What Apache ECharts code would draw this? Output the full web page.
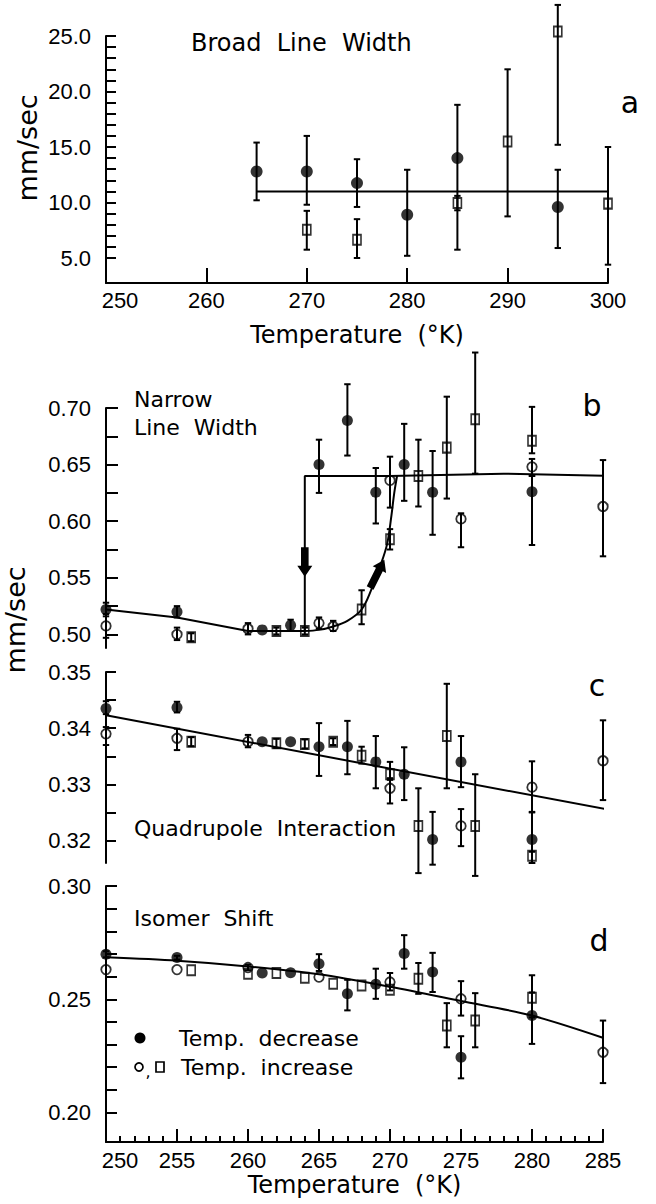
<!DOCTYPE html>
<html><head><meta charset="utf-8">
<script src="https://cdn.jsdelivr.net/npm/echarts@6/dist/echarts.min.js"></script>
<style>html,body{margin:0;padding:0;background:#fff}#c{width:656px;height:1204px}</style>
</head><body><div id="c"></div>
<script>
// ---------------- DATA ----------------
// each point: [temperature K, value, errLow, errHigh] (null = no visible error bar)
// Panel a: Broad Line Width (mm/sec)
const aDec = [[265,12.8,10.2,15.4],[270,12.8,9.8,16.0],[275,11.75,9.6,13.9],[280,8.9,5.2,12.95],[285,14.0,5.75,18.8],[295,9.6,5.9,12.95]];
const aIncSq = [[270,7.55,5.75,9.25],[275,6.65,5.0,8.5],[285,9.95,9.3,10.6],[290,15.5,8.75,22.0],[295,25.4,15.2,27.8],[300,9.9,4.4,15.0]];
const aFit = [[265,11.0],[301,11.0]];

// Panel b: Narrow Line Width (mm/sec)
const bDec = [[250,0.522,0.516,0.528],[255,0.520,0.515,0.525],[261,0.504,null,null],[263,0.508,0.503,0.513],[265,0.650,0.625,0.672],[267,0.689,0.658,0.721],[269,0.6256,0.598,0.647],[271,0.650,0.618,0.686],[273,0.6256,0.588,0.662],[280,0.626,0.579,0.640]];
const bIncCirc = [[250,0.5075,0.497,0.518],[255,0.500,0.495,0.506],[260,0.505,0.500,0.510],[265,0.510,0.505,0.515],[266,0.507,0.503,0.512],[270,0.636,0.612,0.657],[275,0.602,0.577,0.607],[280,0.648,0.640,0.655],[285,0.613,0.569,0.654]];
const bIncSq = [[256,0.4975,0.494,0.501],[262,0.503,0.500,0.506],[264,0.503,0.500,0.506],[268,0.522,0.509,0.539],[270,0.584,0.575,0.593],[272,0.640,0.613,0.672],[274,0.665,0.620,0.710],[276,0.690,0.642,0.749],[280,0.671,0.660,0.701]];
const bFitDec = [[250,0.522],[255,0.515],[260,0.503],[264,0.503],[264,0.640],[270,0.640],[278,0.642],[285.8,0.640]];
const bFitInc = [[264,0.503],[265,0.504],[266,0.507],[267,0.512],[268,0.522],[268.7,0.540],[269.3,0.560],[269.8,0.580],[270.1,0.605],[270.3,0.625],[270.5,0.640]];
const bArrows = [[264,0.577,264,0.551],[268.6,0.541,269.6,0.566]];

// Panel c: Quadrupole Interaction (mm/sec)
const cDec = [[250,0.3435,0.3425,0.3448],[255,0.3437,0.3428,0.3447],[261,0.3376,null,null],[263,0.3376,null,null],[265,0.3367,0.3315,0.3409],[267,0.3367,0.3318,0.3413],[269,0.334,0.3293,0.3386],[271,0.3318,0.3272,0.3366],[273,0.3202,0.3157,0.3251],[275,0.334,0.3295,0.3386],[280,0.3202,0.3160,0.3251]];
const cIncCirc = [[250,0.339,0.337,0.3402],[255,0.3382,0.3361,0.3399],[260,0.3376,0.3366,0.3388],[270,0.3293,0.3266,0.3311],[275,0.3226,0.319,0.3256],[280,0.3295,0.325,0.3341],[285,0.3342,0.3272,0.3414]];
const cIncSq = [[256,0.3376,0.3368,0.3384],[262,0.3373,0.3365,0.3381],[264,0.3372,0.3364,0.338],[266,0.3376,0.337,0.3382],[268,0.3351,0.3337,0.3367],[270,0.3318,0.3308,0.334],[272,0.3226,0.3142,0.3293],[274,0.3386,0.3293,0.3479],[276,0.3226,0.3137,0.3318],[280,0.3173,0.316,0.318]];
const cFit = [[250,0.3423],[285.8,0.3253]];

// Panel d: Isomer Shift (mm/sec)
const dDec = [[250,0.2699,0.2685,0.2712],[255,0.2684,0.2675,0.2692],[261,0.2616,null,null],[263,0.2617,null,null],[265,0.2657,0.2625,0.2699],[267,0.2524,0.2451,0.2586],[269,0.2566,0.2502,0.2635],[271,0.2702,0.2635,0.2783],[273,0.262,0.2532,0.2705],[275,0.2244,0.2151,0.2337],[280,0.2428,0.2303,0.2530]];
const dIncCirc = [[250,0.2631,null,null],[255,0.2631,null,null],[260,0.264,0.2628,0.2652],[265,0.2598,null,null],[270,0.2576,0.2539,0.2616],[275,0.2502,0.2428,0.258],[285,0.2266,0.213,0.2406]];
const dIncSq = [[256,0.2628,null,null],[260,0.2613,null,null],[262,0.2616,null,null],[264,0.2595,null,null],[266,0.2569,null,null],[268,0.2561,null,null],[270,0.2542,null,null],[272,0.2591,0.2524,0.266],[274,0.2384,0.2288,0.2483],[276,0.2406,0.2288,0.2527],[280,0.2507,0.242,0.2606]];
const dFit = [[250,0.2685],[255,0.267],[260,0.2645],[265,0.261],[270,0.2555],[275,0.2492],[280,0.2428],[285.8,0.2313]];

// Axis ranges and tick values
const aXRange = [250, 300], aYRange = [2.75, 25];
const aXLabels = [250,260,270,280,290,300];
const aYTicks = [5,6,7,8,9,10,11,12,13,14,15,16,17,18,19,20,21,22,23,24,25];
const aYLabels = [5,10,15,20,25];
const bcdXRange = [250, 285];
const bYRange = [0.488, 0.70];
const bYTicks = [0.5,0.525,0.55,0.575,0.6,0.625,0.65,0.675,0.7];
const bYLabels = [0.5,0.55,0.6,0.65,0.7];
const cYRange = [0.316, 0.35];
const cYTicks = [0.32,0.325,0.33,0.335,0.34,0.345,0.35];
const cYLabels = [0.32,0.33,0.34,0.35];
const dYRange = [0.187, 0.30];
const dYTicks = [0.2,0.21,0.22,0.23,0.24,0.25,0.26,0.27,0.28,0.29,0.3];
const dYLabels = [0.2,0.25,0.3];
const dXMinorTicks = [251,252,253,254,255,256,257,258,259,260,261,262,263,264,265,266,267,268,269,270,271,272,273,274,275,276,277,278,279,280,281,282,283,284,285];
const dXMajorTicks = [255,260,265,270,275,280,285];
const dXLabels = [250,255,260,265,270,275,280,285];

// ---------------- CHART ----------------
const FONT = 'DejaVu Sans';
const NUMFONT = 'Liberation Sans';
const BLACK = '#000';

function errItem(params, api) {
  const x = api.value(0), lo = api.value(1), hi = api.value(2);
  const p1 = api.coord([x, lo]), p2 = api.coord([x, hi]);
  const c = 3.2, st = {stroke: BLACK, lineWidth: 2};
  return {type: 'group', children: [
    {type: 'line', shape: {x1: p1[0], y1: p1[1], x2: p2[0], y2: p2[1]}, style: st},
    {type: 'line', shape: {x1: p1[0]-c, y1: p1[1], x2: p1[0]+c, y2: p1[1]}, style: st},
    {type: 'line', shape: {x1: p2[0]-c, y1: p2[1], x2: p2[0]+c, y2: p2[1]}, style: st}
  ]};
}
function errSeries(idx, arrs) {
  const data = [];
  arrs.forEach(a => a.forEach(p => { if (p[2] != null) data.push([p[0], p[2], p[3]]); }));
  return {type: 'custom', xAxisIndex: idx, yAxisIndex: idx, data, clip: false, z: 3, silent: true,
    encode: {x: 0, y: [1, 2]}, renderItem: errItem};
}
function ptSeries(idx, arr, kind, big) {
  const base = {type: 'scatter', xAxisIndex: idx, yAxisIndex: idx, clip: false, z: 5, silent: true,
    data: arr.map(p => [p[0], p[1]])};
  if (kind === 'filled') return Object.assign(base, {symbol: 'circle', symbolSize: big ? 12 : 11, itemStyle: {color: BLACK}});
  if (kind === 'circle') return Object.assign(base, {symbol: 'circle', symbolSize: 9.5, itemStyle: {color: 'rgba(0,0,0,0)', borderColor: BLACK, borderWidth: 1.8}});
  return Object.assign(base, {symbol: 'rect', symbolSize: [8, 10], itemStyle: {color: 'rgba(0,0,0,0)', borderColor: BLACK, borderWidth: 1.8}});
}
function lineSeries(idx, arr, smooth) {
  return {type: 'line', xAxisIndex: idx, yAxisIndex: idx, data: arr, showSymbol: false, symbol: 'none',
    smooth: smooth || false, clip: false, z: 2, silent: true, lineStyle: {color: BLACK, width: 2}};
}
function arrowItem(params, api) {
  const t = api.coord([api.value(0), api.value(1)]);
  const h = api.coord([api.value(2), api.value(3)]);
  const dx = h[0]-t[0], dy = h[1]-t[1], L = Math.hypot(dx, dy);
  const ux = dx/L, uy = dy/L, nx = -uy, ny = ux;
  const hl = 11, hw = 7.5, sw = 3.8;
  const bx = h[0]-ux*hl, by = h[1]-uy*hl;
  const pts = [[t[0]+nx*sw, t[1]+ny*sw],[bx+nx*sw, by+ny*sw],[bx+nx*hw, by+ny*hw],[h[0], h[1]],
               [bx-nx*hw, by-ny*hw],[bx-nx*sw, by-ny*sw],[t[0]-nx*sw, t[1]-ny*sw]];
  return {type: 'polygon', shape: {points: pts}, style: {fill: BLACK}};
}
function majorTickItem(params, api) {
  const p = api.coord([api.value(0), api.value(1)]);
  return {type: 'line', shape: {x1: p[0], y1: p[1], x2: p[0], y2: p[1]-13}, style: {stroke: BLACK, lineWidth: 2}};
}

const axisLine = {show: true, onZero: false, lineStyle: {color: BLACK, width: 2}};
const labelStyle = {color: BLACK, fontSize: 22, fontFamily: NUMFONT};
function firstFmt(v) { return v === 250 ? '{s|250}' : String(v); }
const richFirst = {s: {padding: [0, 0, 0, 28], color: BLACK, fontSize: 22, fontFamily: NUMFONT}};

function yAxisCfg(idx, range, ticks, labels, digits, tickLen) {
  return {type: 'value', gridIndex: idx, min: range[0], max: range[1], axisLine,
    axisTick: {show: true, inside: true, length: tickLen, customValues: ticks, lineStyle: {color: BLACK, width: 2}},
    axisLabel: Object.assign({customValues: labels, margin: 15, formatter: v => v.toFixed(digits)}, labelStyle),
    splitLine: {show: false}};
}

const option = {
  animation: false,
  backgroundColor: '#fff',
  grid: [
    {left: 106, width: 502, top: 36, height: 247},
    {left: 106, width: 497, top: 408, height: 240},
    {left: 106, width: 497, top: 672, height: 191},
    {left: 106, width: 497, top: 886, height: 256}
  ],
  xAxis: [
    {type: 'value', gridIndex: 0, min: aXRange[0], max: aXRange[1], axisLine,
      axisTick: {show: true, inside: true, length: 15, customValues: aXLabels, lineStyle: {color: BLACK, width: 2}},
      axisLabel: Object.assign({customValues: aXLabels, margin: 6, formatter: firstFmt, rich: richFirst}, labelStyle),
      splitLine: {show: false},
      name: 'Temperature  (°K)', nameLocation: 'middle', nameGap: 40,
      nameTextStyle: {color: BLACK, fontSize: 24, fontFamily: FONT}},
    {type: 'value', gridIndex: 1, min: bcdXRange[0], max: bcdXRange[1], show: false},
    {type: 'value', gridIndex: 2, min: bcdXRange[0], max: bcdXRange[1], show: false},
    {type: 'value', gridIndex: 3, min: bcdXRange[0], max: bcdXRange[1], axisLine,
      axisTick: {show: true, inside: true, length: 6, customValues: dXMinorTicks, lineStyle: {color: BLACK, width: 2}},
      axisLabel: Object.assign({customValues: dXLabels, margin: 7, formatter: firstFmt, rich: richFirst}, labelStyle),
      splitLine: {show: false},
      name: 'Temperature  (°K)', nameLocation: 'middle', nameGap: 31,
      nameTextStyle: {color: BLACK, fontSize: 24, fontFamily: FONT}}
  ],
  yAxis: [
    yAxisCfg(0, aYRange, aYTicks, aYLabels, 1, 10),
    yAxisCfg(1, bYRange, bYTicks, bYLabels, 2, 12),
    yAxisCfg(2, cYRange, cYTicks, cYLabels, 2, 10),
    yAxisCfg(3, dYRange, dYTicks, dYLabels, 2, 11)
  ],
  series: [
    // panel a
    lineSeries(0, aFit),
    errSeries(0, [aDec, aIncSq]),
    ptSeries(0, aDec, 'filled', true),
    ptSeries(0, aIncSq, 'square'),
    // panel b
    lineSeries(1, bFitDec),
    lineSeries(1, bFitInc, 0.35),
    {type: 'custom', xAxisIndex: 1, yAxisIndex: 1, data: bArrows, clip: false, z: 4, silent: true,
      encode: {x: [0, 2], y: [1, 3]}, renderItem: arrowItem},
    errSeries(1, [bDec, bIncCirc, bIncSq]),
    ptSeries(1, bDec, 'filled'),
    ptSeries(1, bIncCirc, 'circle'),
    ptSeries(1, bIncSq, 'square'),
    // panel c
    lineSeries(2, cFit),
    errSeries(2, [cDec, cIncCirc, cIncSq]),
    ptSeries(2, cDec, 'filled'),
    ptSeries(2, cIncCirc, 'circle'),
    ptSeries(2, cIncSq, 'square'),
    // panel d
    lineSeries(3, dFit, 0.3),
    errSeries(3, [dDec, dIncCirc, dIncSq]),
    ptSeries(3, dDec, 'filled'),
    ptSeries(3, dIncCirc, 'circle'),
    ptSeries(3, dIncSq, 'square'),
    {type: 'custom', xAxisIndex: 3, yAxisIndex: 3, data: dXMajorTicks.map(v => [v, dYRange[0]]),
      clip: false, z: 6, silent: true, encode: {x: 0, y: 1}, renderItem: majorTickItem}
  ],
  graphic: [
    {type: 'text', x: 191, y: 43, style: {text: 'Broad  Line  Width', fontSize: 24, fontFamily: FONT, fill: BLACK, align: 'left', verticalAlign: 'middle'}},
    {type: 'text', x: 630, y: 102, style: {text: 'a', fontSize: 30, fontFamily: FONT, fill: BLACK, align: 'center', verticalAlign: 'middle'}},
    {type: 'text', x: 27, y: 148, rotation: Math.PI / 2, style: {text: 'mm/sec', fontSize: 27, fontFamily: FONT, fill: BLACK, align: 'center', verticalAlign: 'middle'}},
    {type: 'text', x: 134, y: 399, style: {text: 'Narrow', fontSize: 22, fontFamily: FONT, fill: BLACK, align: 'left', verticalAlign: 'middle'}},
    {type: 'text', x: 134, y: 427, style: {text: 'Line  Width', fontSize: 22, fontFamily: FONT, fill: BLACK, align: 'left', verticalAlign: 'middle'}},
    {type: 'text', x: 592, y: 405, style: {text: 'b', fontSize: 30, fontFamily: FONT, fill: BLACK, align: 'center', verticalAlign: 'middle'}},
    {type: 'text', x: 15, y: 620, rotation: Math.PI / 2, style: {text: 'mm/sec', fontSize: 27, fontFamily: FONT, fill: BLACK, align: 'center', verticalAlign: 'middle'}},
    {type: 'text', x: 597, y: 685, style: {text: 'c', fontSize: 30, fontFamily: FONT, fill: BLACK, align: 'center', verticalAlign: 'middle'}},
    {type: 'text', x: 134, y: 828, style: {text: 'Quadrupole  Interaction', fontSize: 22, fontFamily: FONT, fill: BLACK, align: 'left', verticalAlign: 'middle'}},
    {type: 'text', x: 134, y: 918, style: {text: 'Isomer  Shift', fontSize: 22, fontFamily: FONT, fill: BLACK, align: 'left', verticalAlign: 'middle'}},
    {type: 'text', x: 599, y: 940, style: {text: 'd', fontSize: 30, fontFamily: FONT, fill: BLACK, align: 'center', verticalAlign: 'middle'}},
    {type: 'circle', shape: {cx: 140, cy: 1038, r: 5.5}, style: {fill: BLACK}},
    {type: 'text', x: 179, y: 1038, style: {text: 'Temp.  decrease', fontSize: 22, fontFamily: FONT, fill: BLACK, align: 'left', verticalAlign: 'middle'}},
    {type: 'circle', shape: {cx: 139, cy: 1067, r: 4}, style: {fill: 'none', stroke: BLACK, lineWidth: 1.7}},
    {type: 'text', x: 148, y: 1071, style: {text: ',', fontSize: 16, fontFamily: FONT, fill: BLACK, align: 'center', verticalAlign: 'middle'}},
    {type: 'rect', shape: {x: 156, y: 1062, width: 8, height: 10}, style: {fill: 'none', stroke: BLACK, lineWidth: 1.7}},
    {type: 'text', x: 181, y: 1067, style: {text: 'Temp.  increase', fontSize: 22, fontFamily: FONT, fill: BLACK, align: 'left', verticalAlign: 'middle'}}
  ]
};

const chart = echarts.init(document.getElementById('c'), null, {renderer: 'svg', width: 656, height: 1204});
chart.setOption(option);
</script>
</body></html>
